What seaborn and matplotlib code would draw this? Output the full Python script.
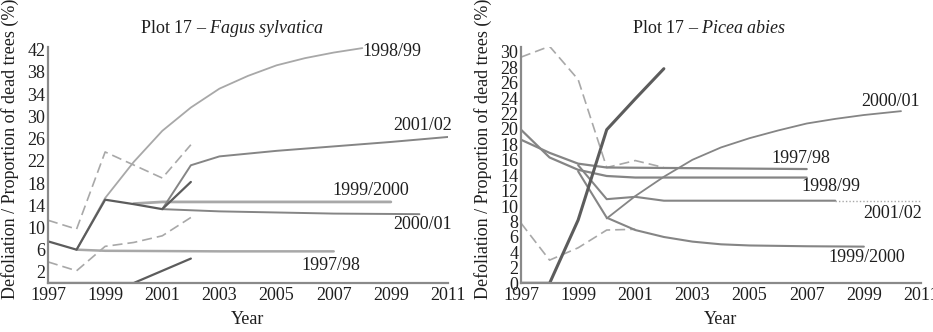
import matplotlib
matplotlib.use("Agg")
import matplotlib.pyplot as plt
import seaborn as sns
import pandas as pd

# ---------------- data: Plot 17 - Fagus sylvatica ----------------
fagus_obs_x = [1997, 1998, 1999, 2000, 2001, 2002]
fagus_obs_y = [7.5, 6.0, 15.0, 14.2, 13.3, 18.2]
fagus_dash_up_x = [1997, 1998, 1999, 2001, 2002]
fagus_dash_up_y = [11.3, 9.7, 23.6, 18.9, 24.9]
fagus_dash_lo_x = [1997, 1998, 1999, 2000, 2001, 2002]
fagus_dash_lo_y = [3.8, 2.2, 6.6, 7.3, 8.5, 11.8]
fagus_dead_x = [1997, 1998, 1999, 2000, 2001, 2002]
fagus_dead_y = [0.0, 0.0, 0.0, 0.0, 2.2, 4.4]

fagus_9798_x = [1998, 1999, 2001, 2003, 2005, 2007]
fagus_9798_y = [6.0, 5.8, 5.75, 5.7, 5.7, 5.7]
fagus_9899_x = [1998, 1999, 2000, 2001, 2002, 2003, 2004, 2005, 2006, 2007, 2008]
fagus_9899_y = [6.0, 15.3, 21.8, 27.4, 31.6, 35.0, 37.3, 39.2, 40.5, 41.5, 42.3]
fagus_9900_x = [2000, 2001, 2009]
fagus_9900_y = [14.3, 14.6, 14.6]
fagus_0001_x = [2001, 2003, 2005, 2007, 2010]
fagus_0001_y = [13.3, 12.9, 12.7, 12.5, 12.4]
fagus_0102_x = [2001, 2002, 2003, 2005, 2007, 2009, 2011]
fagus_0102_y = [13.3, 21.2, 22.8, 23.8, 24.6, 25.4, 26.3]

# ---------------- data: Plot 17 - Picea abies ----------------
picea_dash_up_x = [1997, 1998, 1999, 2000, 2001, 2002]
picea_dash_up_y = [29.3, 30.7, 26.4, 15.0, 15.9, 15.0]
picea_dash_lo_x = [1997, 1998, 1999, 2000, 2001]
picea_dash_lo_y = [7.8, 3.0, 4.6, 6.9, 7.0]
picea_dead_x = [1997, 1998, 1999, 2000, 2001, 2002]
picea_dead_y = [0.0, 0.0, 8.2, 19.9, 23.9, 27.8]

picea_9798_x = [1997, 1998, 1999, 2000, 2007]
picea_9798_y = [18.6, 16.9, 15.5, 15.0, 14.8]
picea_9899_x = [1997, 1998, 1999, 2000, 2001, 2007]
picea_9899_y = [19.9, 16.3, 14.7, 13.9, 13.7, 13.7]
picea_9900_x = [1999, 2000, 2001, 2002, 2003, 2004, 2005, 2007, 2009]
picea_9900_y = [14.5, 8.5, 6.9, 6.0, 5.4, 5.05, 4.9, 4.8, 4.75]
picea_0001_x = [2000, 2001, 2002, 2003, 2004, 2005, 2006, 2007, 2008, 2009, 2010.3]
picea_0001_y = [8.4, 11.3, 13.8, 16.0, 17.6, 18.8, 19.8, 20.7, 21.3, 21.8, 22.3]
picea_0102_x = [1999, 2000, 2001, 2002, 2008]
picea_0102_y = [15.3, 10.9, 11.2, 10.7, 10.7]
picea_0102_tail_x = [2008, 2011]
picea_0102_tail_y = [10.7, 10.7]

# ---------------- labels ----------------
x_ticks = [1997, 1999, 2001, 2003, 2005, 2007, 2009, 2011]
x_tick_labels = ["1997", "1999", "2001", "2003", "2005", "2007", "2099", "2011"]
fagus_y_ticks = [2, 6, 10, 14, 18, 22, 26, 30, 34, 38, 42]
picea_y_ticks = list(range(0, 31, 2))
fagus_labels = ["1998/99", "2001/02", "1999/2000", "2000/01", "1997/98"]
fagus_label_x = [2008.0, 2010.1, 2008.3, 2010.1, 2006.9]
fagus_label_y = [41.6, 28.3, 16.6, 10.45, 3.1]
picea_labels = ["2000/01", "1997/98", "1998/99", "2001/02", "1999/2000"]
picea_label_x = [2009.95, 2006.8, 2007.85, 2010.0, 2009.1]
picea_label_y = [23.5, 16.2, 12.6, 9.1, 3.3]

sns.set_style("white")
plt.rcParams["font.family"] = ["Liberation Serif", "DejaVu Serif"]
plt.rcParams["mathtext.fontset"] = "custom"
plt.rcParams["mathtext.rm"] = "Liberation Serif"
plt.rcParams["mathtext.it"] = "Liberation Serif:italic"

FS = 13
TXT = "#1e1e1e"
DARK = "#5c5c5c"
MID = "#858585"
LIGHT = "#a8a8a8"
DASH = (0, (6, 3))

fig = plt.figure(figsize=(9.33, 3.32), dpi=100)
axL = fig.add_axes([48 / 933, (332 - 283) / 332, 400 / 933, 236 / 332])
axR = fig.add_axes([521 / 933, (332 - 283.3) / 332, 400 / 933, 236.6 / 332])


def line(ax, xs, ys, color, lw, ls="-"):
    df = pd.DataFrame({"Year": xs, "val": ys})
    sns.lineplot(data=df, x="Year", y="val", ax=ax, color=color, lw=lw,
                 linestyle=ls, sort=False, estimator=None, clip_on=True)


# left panel
line(axL, fagus_dash_up_x, fagus_dash_up_y, LIGHT, 1.2, DASH)
line(axL, fagus_dash_lo_x, fagus_dash_lo_y, LIGHT, 1.2, DASH)
line(axL, fagus_9899_x, fagus_9899_y, LIGHT, 1.3)
line(axL, fagus_9798_x, fagus_9798_y, LIGHT, 1.8)
line(axL, fagus_9900_x, fagus_9900_y, LIGHT, 2.0)
line(axL, fagus_0001_x, fagus_0001_y, MID, 1.4)
line(axL, fagus_0102_x, fagus_0102_y, MID, 1.4)
line(axL, fagus_obs_x, fagus_obs_y, DARK, 1.6)
line(axL, fagus_dead_x, fagus_dead_y, DARK, 1.6)

# right panel
line(axR, picea_dash_up_x, picea_dash_up_y, LIGHT, 1.2, DASH)
line(axR, picea_dash_lo_x, picea_dash_lo_y, LIGHT, 1.2, DASH)
line(axR, picea_9798_x, picea_9798_y, MID, 1.6)
line(axR, picea_9899_x, picea_9899_y, MID, 1.6)
line(axR, picea_9900_x, picea_9900_y, MID, 1.5)
line(axR, picea_0001_x, picea_0001_y, MID, 1.3)
line(axR, picea_0102_x, picea_0102_y, MID, 1.5)
line(axR, picea_0102_tail_x, picea_0102_tail_y, LIGHT, 1.0, (0, (1, 1.5)))
line(axR, picea_dead_x, picea_dead_y, DARK, 2.2)

for ax, yt, ylim in ((axL, fagus_y_ticks, 42.5), (axR, picea_y_ticks, 30.65)):
    ax.set_xlim(1997, 2011)
    ax.set_ylim(0, ylim)
    ax.set_xticks(x_ticks)
    ax.set_xticklabels(x_tick_labels)
    ax.set_yticks(yt)
    ax.tick_params(axis="both", labelsize=FS, length=3, width=0.8,
                   color="#888888", direction="in", labelcolor=TXT)
    ax.tick_params(axis="x", pad=3)
    ax.tick_params(axis="y", pad=2)
    for s in ("top", "right"):
        ax.spines[s].set_visible(False)
    for s in ("left", "bottom"):
        ax.spines[s].set_color("#8a8a8a")
        ax.spines[s].set_linewidth(1.6)
    ax.set_xlabel("Year", fontsize=FS, color=TXT, labelpad=5)
    ax.set_ylabel("Defoliation / Proportion of dead trees (%)", fontsize=FS,
                  color=TXT)
    ax.yaxis.set_label_coords(-0.072, 0.57)

axL.text(0.46, 1.08, r"Plot 17 – $\mathit{Fagus\ sylvatica}$", transform=axL.transAxes,
         ha="center", va="center", fontsize=FS, color=TXT)
axR.text(0.47, 1.075, r"Plot 17 – $\mathit{Picea\ abies}$", transform=axR.transAxes,
         ha="center", va="center", fontsize=FS, color=TXT)

for t, x, y in zip(fagus_labels, fagus_label_x, fagus_label_y):
    ha = "left" if t == "1998/99" else "center"
    axL.text(x, y, t, ha=ha, va="center", fontsize=FS, color=TXT, clip_on=False)
for t, x, y in zip(picea_labels, picea_label_x, picea_label_y):
    axR.text(x, y, t, ha="center", va="center", fontsize=FS, color=TXT, clip_on=False)

fig.savefig("out.png", dpi=100)
